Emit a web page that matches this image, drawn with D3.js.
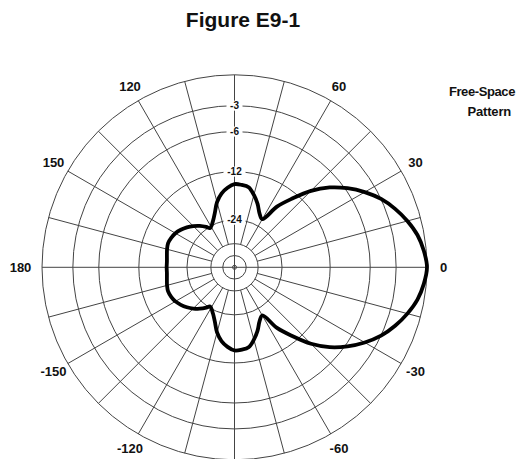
<!DOCTYPE html>
<meta charset="utf-8">
<style>
body { margin: 0; background: #fff; }
text { font-family: "Liberation Sans", Arial, sans-serif; fill: #111; }
.ring, .spoke { fill: none; stroke: #444; stroke-width: 1px; }
.pattern { fill: none; stroke: #000; stroke-width: 3.8px; stroke-linejoin: round; }
</style>
<svg width="516" height="459"></svg>
<script src="https://d3js.org/d3.v7.min.js"></script>
<script>

// free-space pattern, upper half (mirrored below), gain in dB
var patternDeg = [0, 5, 10, 15, 20, 25, 30, 35, 40, 45, 50, 55, 60, 65, 70, 75, 80, 85, 90,
                  95, 100, 105, 110, 115, 122, 125, 130, 135, 140, 145, 150, 155, 160, 165, 170, 175, 180];
var patternDb = [0, -0.22, -0.61, -1.25, -2.04, -2.99, -4.24, -5.73, -7.52, -9.89, -13.1, -16.4, -21.3, -20.2, -18.0, -16.2, -14.8, -14.5, -14.4,
                 -15.1, -16.2, -18.0, -20.7, -22.8, -24.5, -23.4, -21.8, -20.5, -19.4, -18.5, -17.8, -17.4, -17.2, -17.4, -17.7, -17.9, -17.9];

var ringDb = [0, -3, -6, -12, -24, -36, -48];
var ringLabelDb = [-3, -6, -12, -24];
var angleLabels = [0, 30, 60, 120, 150, 180, -150, -120, -60, -30];
var spokeDeg = [0, 15, 30, 45, 60, 75, 90, 105, 120, 135, 150, 165, 180, 195, 210, 225, 240, 255, 270, 285, 300, 315, 330, 345];

var svg = d3.select("svg"),
    cx = 234.5, cy = 267.3, R = 192.5;

// ARRL log-periodic radius: each 2 dB shrinks by 0.89
var r = d3.scaleLog()
    .domain([R * Math.pow(0.89, 25), R])
    .range([-50, 0]);
function rad(db) { return r.invert(db); }

// 0 deg to the right, counter-clockwise positive
var a = d3.scaleLinear().domain([0, 90]).range([Math.PI / 2, 0]);

var g = svg.append("g").attr("transform", "translate(" + cx + "," + cy + ")");

g.selectAll(".ring")
    .data(ringDb)
    .enter().append("circle")
    .attr("class", "ring")
    .attr("r", function(d) { return rad(d); });

g.append("circle").attr("class", "ring").attr("r", 2);

g.selectAll(".spoke")
    .data(spokeDeg)
    .enter().append("line")
    .attr("class", "spoke")
    .each(function(d) {
      var inner = (d % 90 == 0) ? 0 : rad(-36);
      var p0 = d3.pointRadial(a(d), inner), p1 = d3.pointRadial(a(d), R);
      d3.select(this).attr("x1", p0[0]).attr("y1", p0[1]).attr("x2", p1[0]).attr("y2", p1[1]);
    });

// pattern
var pts = [];
patternDeg.forEach(function(d, i) { pts.push({deg: d, db: patternDb[i]}); });
for (var i = patternDeg.length - 2; i > 0; i--) pts.push({deg: -patternDeg[i], db: patternDb[i]});

var line = d3.lineRadial()
    .angle(function(d) { return a(d.deg); })
    .radius(function(d) { return rad(d.db); })
    .curve(d3.curveCatmullRomClosed.alpha(0.5));

g.append("path")
    .datum(pts)
    .attr("class", "pattern")
    .attr("d", line);

// ring labels on the vertical axis
var rl = g.selectAll(".rlab")
    .data(ringLabelDb)
    .enter().append("g")
    .attr("transform", function(d) { return "translate(0," + (-rad(d)) + ")"; });

rl.append("rect")
    .attr("x", function(d) { return d < -9 ? -11 : -8; })
    .attr("y", -5)
    .attr("width", function(d) { return d < -9 ? 22 : 16; })
    .attr("height", 10)
    .attr("fill", "#fff");

rl.append("text")
    .attr("text-anchor", "middle")
    .attr("dy", "0.35em")
    .attr("font-size", 10)
    .attr("font-weight", "bold")
    .text(function(d) { return d; });

// angle labels
g.selectAll(".alab")
    .data(angleLabels)
    .enter().append("text")
    .attr("text-anchor", "middle")
    .attr("dy", "0.36em")
    .attr("font-size", 13)
    .attr("font-weight", "bold")
    .attr("x", function(d) { return d3.pointRadial(a(d), d == 180 ? 214 : 209)[0]; })
    .attr("y", function(d) { return d3.pointRadial(a(d), 209)[1]; })
    .text(function(d) { return d; });

svg.append("text")
    .attr("x", 243)
    .attr("y", 27)
    .attr("text-anchor", "middle")
    .attr("font-size", 21)
    .attr("font-weight", "bold")
    .text("Figure E9-1");

svg.append("text")
    .attr("x", 515)
    .attr("y", 96)
    .attr("text-anchor", "end")
    .attr("font-size", 13)
    .attr("font-weight", "bold")
    .attr("letter-spacing", -0.4)
    .text("Free-Space");

svg.append("text")
    .attr("x", 511)
    .attr("y", 116)
    .attr("text-anchor", "end")
    .attr("font-size", 13)
    .attr("font-weight", "bold")
    .attr("letter-spacing", -0.2)
    .text("Pattern");

</script>
